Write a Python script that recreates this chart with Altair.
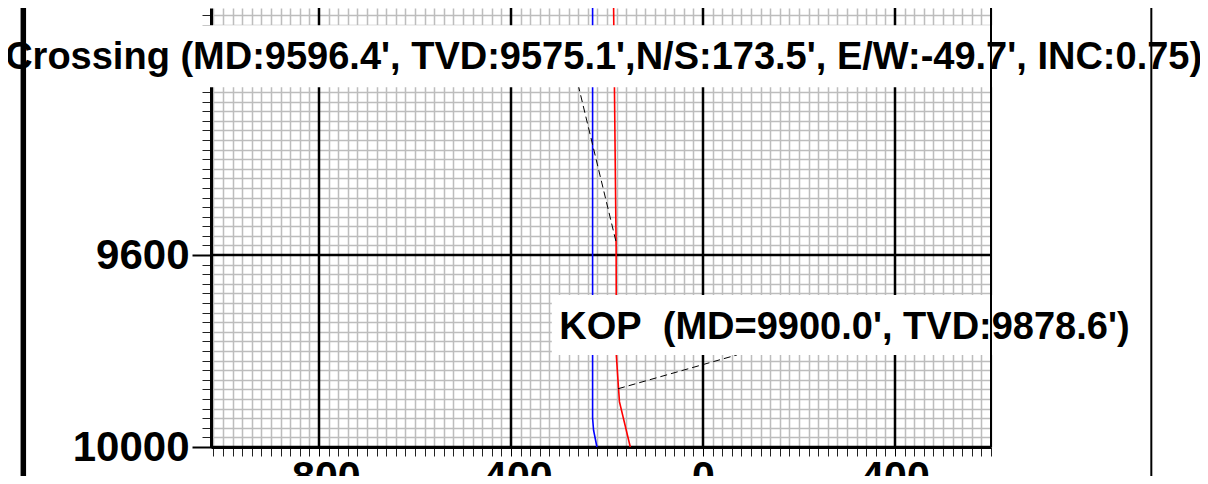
import altair as alt
import pandas as pd

# ---- well traces: E/W offset (ft) vs TVD (ft) ----
blue_tvd = [9060, 9940, 9965, 10000]
blue_ew = [-230, -230, -228, -221]
red_tvd = [9060, 9580, 9810, 9878, 9906, 10000]
red_ew = [-186.5, -181, -180.5, -176, -174, -151.5]

# ---- axis ticks ----
x_major = [-800, -400, 0, 400]
y_major = [9600, 10000]
x_minor = [v for v in range(-1020, 601, 20) if v not in x_major]
y_minor = [v for v in range(9100, 10001, 20) if v not in y_major + [9200]]

# ---- annotations (data coordinates) ----
cross_text = ["Crossing (MD:9596.4', TVD:9575.1',N/S:173.5', E/W:-49.7', INC:0.75)"]
cross_text_at = [(-207, 9212.5)]
cross_box = [(-1450, 1035, 9121, 9250)]
kop_text = ["KOP\u00a0\u00a0(MD=9900.0', TVD:9878.6')"]
kop_text_at = [(-299.4, 9775.6)]
kop_box = [(-315, 910, 9683, 9808)]
leader_from = [(-271, 9200), (-177, 9878.6)]
leader_to = [(-180.5, 9575.1), (71, 9808)]
frame_x = [-1416, 934, 600]
frame_w = [5.5, 2, 2]
frame_y0 = [9060, 9060, 9085]
frame_y1 = [10080, 10080, 10000]

FONT = "Liberation Sans"
XS = alt.Scale(domain=[-1025, 600], nice=False, zero=False)
YS = alt.Scale(domain=[9085, 10000], reverse=True, nice=False, zero=False)
LBL = "datum.value < 0 ? '-' + format(-datum.value, 'd') : format(datum.value, 'd')"

minor_x_axis = alt.Axis(values=x_minor, orient="bottom", grid=True, gridColor="#bdbdbd",
                        gridWidth=1.5, ticks=True, tickSize=9, tickColor="#222222", tickWidth=1,
                        labels=False, domain=False, title=None)
minor_y_axis = alt.Axis(values=y_minor, orient="left", grid=True, gridColor="#bdbdbd",
                        gridWidth=1.5, ticks=True, tickSize=9, tickColor="#222222", tickWidth=1,
                        labels=False, domain=False, title=None)
major_x_axis = alt.Axis(values=x_major, orient="bottom", grid=False,
                        ticks=True, tickSize=9, tickColor="black", tickWidth=1,
                        labels=True, labelExpr=LBL, labelFont=FONT, labelFontSize=41,
                        labelFontWeight="bold", labelColor="black", labelPadding=1,
                        labelFlush=False, labelOverlap=False,
                        domain=True, domainColor="black", domainWidth=3, title=None)
major_y_axis = alt.Axis(values=y_major, orient="left", grid=False,
                        ticks=True, tickSize=19, tickColor="black", tickWidth=2,
                        labels=True, labelExpr=LBL, labelFont=FONT, labelFontSize=42,
                        labelFontWeight="bold", labelColor="black", labelPadding=3,
                        labelFlush=False, labelOverlap=False,
                        domain=True, domainColor="black", domainWidth=3, title=None)

blue_df = pd.DataFrame({"ew": blue_ew, "tvd": blue_tvd})
red_df = pd.DataFrame({"ew": red_ew, "tvd": red_tvd})

# major grid lines drawn as rules (above the minor grid)
vgrid = alt.Chart(pd.DataFrame({"x": x_major})).mark_rule(color="black", strokeWidth=2.5).encode(
    x=alt.X("x:Q", scale=XS, axis=minor_x_axis))
hgrid = alt.Chart(pd.DataFrame({"y": y_major})).mark_rule(color="black", strokeWidth=2.5).encode(
    y=alt.Y("y:Q", scale=YS, axis=minor_y_axis))

blue = alt.Chart(blue_df).mark_line(color="#0000ff", strokeWidth=1.6, clip=True).encode(
    x=alt.X("ew:Q", scale=XS, axis=None),
    y=alt.Y("tvd:Q", scale=YS, axis=None),
    order="tvd:Q",
)
red = alt.Chart(red_df).mark_line(color="#ff0000", strokeWidth=1.6, clip=True).encode(
    x=alt.X("ew:Q", scale=XS, axis=major_x_axis),
    y=alt.Y("tvd:Q", scale=YS, axis=major_y_axis),
    order="tvd:Q",
)

lead_df = pd.DataFrame({
    "x": [p[0] for p in leader_from], "y": [p[1] for p in leader_from],
    "x2": [p[0] for p in leader_to], "y2": [p[1] for p in leader_to],
})
leaders = alt.Chart(lead_df).mark_rule(color="black", strokeWidth=1, strokeDash=[7, 4], clip=True).encode(
    x=alt.X("x:Q", scale=XS, axis=None), y=alt.Y("y:Q", scale=YS, axis=None),
    x2="x2:Q", y2="y2:Q",
)

box_df = pd.DataFrame([dict(x=b[0], x2=b[1], y=b[2], y2=b[3]) for b in cross_box + kop_box])
boxes = alt.Chart(box_df).mark_rect(color="white", clip=False).encode(
    x=alt.X("x:Q", scale=XS, axis=None), x2="x2:Q",
    y=alt.Y("y:Q", scale=YS, axis=None), y2="y2:Q",
)

cross_df = pd.DataFrame({"t": cross_text, "x": [p[0] for p in cross_text_at], "y": [p[1] for p in cross_text_at]})
kop_df = pd.DataFrame({"t": kop_text, "x": [p[0] for p in kop_text_at], "y": [p[1] for p in kop_text_at]})
cross_lbl = alt.Chart(cross_df).mark_text(font=FONT, fontSize=38, fontWeight="bold", color="black",
                                          align="center", baseline="alphabetic", clip=False).encode(
    x=alt.X("x:Q", scale=XS, axis=None), y=alt.Y("y:Q", scale=YS, axis=None), text="t:N")
kop_lbl = alt.Chart(kop_df).mark_text(font=FONT, fontSize=38, fontWeight="bold", color="black",
                                      align="left", baseline="alphabetic", clip=False).encode(
    x=alt.X("x:Q", scale=XS, axis=None), y=alt.Y("y:Q", scale=YS, axis=None), text="t:N")

frame_df = pd.DataFrame({"x": frame_x, "w": frame_w, "y": frame_y0, "y2": frame_y1})
frame = alt.Chart(frame_df).mark_rule(color="black", clip=False).encode(
    x=alt.X("x:Q", scale=XS, axis=None), y=alt.Y("y:Q", scale=YS, axis=None), y2="y2:Q",
    strokeWidth=alt.StrokeWidth("w:Q", scale=None, legend=None),
)

chart = alt.layer(vgrid, hgrid, blue, red, leaders, boxes, cross_lbl, kop_lbl, frame).resolve_axis(
    x="independent", y="independent"
).properties(
    width=780, height=439,
    autosize=alt.AutoSizeParams(type="none"),
    padding={"left": 203, "top": 0, "right": 209, "bottom": 29},
).configure_view(stroke=None)

chart.save("out.html", embed_options={"renderer": "svg", "actions": False})
